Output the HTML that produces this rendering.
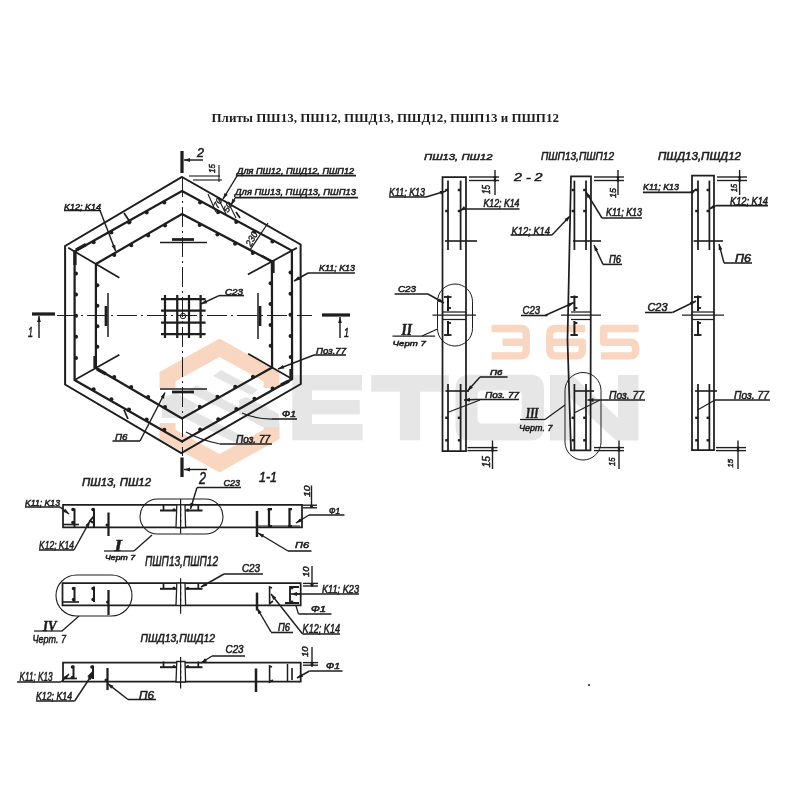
<!DOCTYPE html>
<html><head><meta charset="utf-8"><style>
html,body{margin:0;padding:0;background:#fff;}
svg{display:block;filter:blur(0.25px);}
</style></head><body>
<svg width="800" height="800" viewBox="0 0 800 800">
<rect width="800" height="800" fill="#fff"/>
<polygon points="159.5,388.0 159.5,372.0 219.5,338.5 279.5,372.0 279.5,388.0 263.5,388.0 263.5,381.2 219.5,356.9 175.5,381.2 175.5,388.0" fill="#f9d6bf"/>
<polygon points="159.5,423.0 159.5,439.0 219.5,472.5 279.5,439.0 279.5,423.0 263.5,423.0 263.5,429.8 219.5,454.1 175.5,429.8 175.5,423.0" fill="#f9d6bf"/>
<polygon points="213,376 221,370 258,390 251,395" fill="#e4e4e4"/>
<polygon points="188,392 196,385 240,408 233,414" fill="#e4e4e4"/>
<polygon points="162,398 176,393 198,405 186,418 162,418" fill="#e4e4e4"/>
<polygon points="180,416 190,409 246,438 238,444" fill="#e4e4e4"/>
<polygon points="239,400 246,397 279,414 279,427 262,427 239,414" fill="#e4e4e4"/>
<path fill="#e6e6e6" d="M292.3,375 H362 V390.6 H312 V400 H359.8 V414.5 H312 V424 H362.6 V440.3 H292.3 Z"/>
<path fill="#e6e6e6" d="M371.2,375 H448.8 V391.8 H420.1 V440.3 H399.9 V391.8 H371.2 Z"/>
<path fill="#e6e6e6" fill-rule="evenodd" d="M470,374.8 H530 Q544,374.8 544,388.8 V426.6 Q544,440.6 530,440.6 H470 Q455.5,440.6 455.5,426.6 V388.8 Q455.5,374.8 470,374.8 Z M482.5,390.5 Q477.5,390.5 477.5,395.5 V418.5 Q477.5,423.5 482.5,423.5 H516.75 Q521.75,423.5 521.75,418.5 V395.5 Q521.75,390.5 516.75,390.5 Z"/>
<path fill="#e6e6e6" d="M550,375 H572 L618,418 V375 H638.5 V440.6 H616 L570,397.5 V440.6 H550 Z"/>
<path d="M491.6,328.5 H520.3 Q526.3,328.5 526.3,334.5 V349.90000000000003 Q526.3,355.90000000000003 520.3,355.90000000000003 H491.6 M502.6,342.20000000000005 H526.3" fill="none" stroke="#f9d6c0" stroke-width="7.4" stroke-linejoin="round"/>
<path d="M585,328.5 H555.7 Q549.7,328.5 549.7,334.5 V349.90000000000003 Q549.7,355.90000000000003 555.7,355.90000000000003 H576.3 Q582.3,355.90000000000003 582.3,349.90000000000003 V342.20000000000005 H549.7" fill="none" stroke="#f9d6c0" stroke-width="7.4" stroke-linejoin="round"/>
<path d="M638.4,328.5 H603.7 V342.20000000000005 H629.6999999999999 Q635.6999999999999,342.20000000000005 635.6999999999999,348.20000000000005 V349.90000000000003 Q635.6999999999999,355.90000000000003 629.6999999999999,355.90000000000003 H601" fill="none" stroke="#f9d6c0" stroke-width="7.4" stroke-linejoin="round"/>
<text x="211.5" y="121.8" font-family="Liberation Serif" font-weight="bold" font-size="12.6" textLength="347.5" lengthAdjust="spacingAndGlyphs" fill="#1e1e1e">Плиты ПШ13, ПШ12, ПШД13, ПШД12, ПШП13 и ПШП12</text>
<polygon points="182,177 300.6,244.5 300.8,384 181.3,453 65.1,384.5 65.1,246" stroke="#1e1e1e" stroke-width="2.00" fill="none" stroke-linejoin="miter"/>
<polygon points="182,191 291.9,250.6 292.1,379 182,441.4 74.6,380 74.6,251.5" stroke="#1e1e1e" stroke-width="2.25" fill="none" stroke-linejoin="miter"/>
<polygon points="182,214 271.9,261.5 272.1,367.5 182,418.5 95.9,368 95.9,264" stroke="#1e1e1e" stroke-width="2.25" fill="none" stroke-linejoin="miter"/>
<circle cx="200.08616697650513" cy="202.41551749626163" r="2.0" fill="#1e1e1e"/>
<circle cx="218.14370703142922" cy="212.284505192199" r="2.0" fill="#1e1e1e"/>
<circle cx="236.20231911275124" cy="222.10037428875034" r="2.0" fill="#1e1e1e"/>
<circle cx="254.28963213603956" cy="231.87149128632677" r="2.0" fill="#1e1e1e"/>
<circle cx="272.42433683125813" cy="241.61888886141824" r="2.0" fill="#1e1e1e"/>
<circle cx="290.5394209805579" cy="272.55408334461526" r="2.0" fill="#1e1e1e"/>
<circle cx="290.4963319030227" cy="293.696842858799" r="2.0" fill="#1e1e1e"/>
<circle cx="290.5000306489637" cy="314.80958884516645" r="2.0" fill="#1e1e1e"/>
<circle cx="290.5594226377387" cy="335.9214550998283" r="2.0" fill="#1e1e1e"/>
<circle cx="290.666472670287" cy="357.06198812977567" r="2.0" fill="#1e1e1e"/>
<circle cx="272.5843260859709" cy="388.4559638109945" r="2.0" fill="#1e1e1e"/>
<circle cx="254.4188345323285" cy="398.6654012493181" r="2.0" fill="#1e1e1e"/>
<circle cx="236.30128783579596" cy="408.9002192126467" r="2.0" fill="#1e1e1e"/>
<circle cx="218.2115130437651" cy="419.1817685331412" r="2.0" fill="#1e1e1e"/>
<circle cx="200.1209016011447" cy="429.5175985956422" r="2.0" fill="#1e1e1e"/>
<circle cx="164.3356536471526" cy="429.6852931963413" r="2.0" fill="#1e1e1e"/>
<circle cx="146.68830884062567" cy="419.51504052993664" r="2.0" fill="#1e1e1e"/>
<circle cx="129.04214303833132" cy="409.39645724632584" r="2.0" fill="#1e1e1e"/>
<circle cx="111.37052150907893" cy="399.32294991833464" r="2.0" fill="#1e1e1e"/>
<circle cx="93.65401177256932" cy="389.2750761503332" r="2.0" fill="#1e1e1e"/>
<circle cx="75.99305609022015" cy="358.02710071158185" r="2.0" fill="#1e1e1e"/>
<circle cx="76.070643413522" cy="336.8713567442727" r="2.0" fill="#1e1e1e"/>
<circle cx="76.09999597378795" cy="315.74652456910616" r="2.0" fill="#1e1e1e"/>
<circle cx="76.07194536572514" cy="294.62208381440706" r="2.0" fill="#1e1e1e"/>
<circle cx="75.99527156777397" cy="273.46731832802936" r="2.0" fill="#1e1e1e"/>
<circle cx="93.65811199969932" cy="242.3699644145673" r="2.0" fill="#1e1e1e"/>
<circle cx="111.3758526311405" cy="232.4725048051918" r="2.0" fill="#1e1e1e"/>
<circle cx="129.04777148828595" cy="222.5503221913459" r="2.0" fill="#1e1e1e"/>
<circle cx="146.69290382242994" cy="212.58336911313663" r="2.0" fill="#1e1e1e"/>
<circle cx="164.33816359815268" cy="202.56430534539666" r="2.0" fill="#1e1e1e"/>
<circle cx="199.7000090312651" cy="224.97363667755212" r="2.0" fill="#1e1e1e"/>
<circle cx="217.36766984412523" cy="234.37809469429405" r="2.0" fill="#1e1e1e"/>
<circle cx="235.05396111628352" cy="243.71034503202287" r="2.0" fill="#1e1e1e"/>
<circle cx="252.79900726665417" cy="252.99668214180144" r="2.0" fill="#1e1e1e"/>
<circle cx="270.53171267040057" cy="283.21645599743806" r="2.0" fill="#1e1e1e"/>
<circle cx="270.49244780998345" cy="304.0928431538242" r="2.0" fill="#1e1e1e"/>
<circle cx="270.52855140261863" cy="324.9400591316481" r="2.0" fill="#1e1e1e"/>
<circle cx="270.6415370633647" cy="345.812185591242" r="2.0" fill="#1e1e1e"/>
<circle cx="252.9477512473966" cy="376.71612360419203" r="2.0" fill="#1e1e1e"/>
<circle cx="235.1679076999278" cy="386.6941097362728" r="2.0" fill="#1e1e1e"/>
<circle cx="217.4471486689016" cy="396.722129433069" r="2.0" fill="#1e1e1e"/>
<circle cx="199.74172615936902" cy="406.82603810442043" r="2.0" fill="#1e1e1e"/>
<circle cx="165.06104713743457" cy="406.9265643867003" r="2.0" fill="#1e1e1e"/>
<circle cx="148.1431747342905" cy="396.9180060675657" r="2.0" fill="#1e1e1e"/>
<circle cx="131.21442437074037" cy="386.9812375047388" r="2.0" fill="#1e1e1e"/>
<circle cx="114.23367924663755" cy="377.09515248141383" r="2.0" fill="#1e1e1e"/>
<circle cx="97.3085946514139" cy="346.68438278926305" r="2.0" fill="#1e1e1e"/>
<circle cx="97.38825763936538" cy="326.21267888834774" r="2.0" fill="#1e1e1e"/>
<circle cx="97.39029346139932" cy="305.77036842110687" r="2.0" fill="#1e1e1e"/>
<circle cx="97.31379092961964" cy="285.3011937822093" r="2.0" fill="#1e1e1e"/>
<circle cx="114.24248755447847" cy="254.9949983367026" r="2.0" fill="#1e1e1e"/>
<circle cx="131.22403023409473" cy="245.21181291675177" r="2.0" fill="#1e1e1e"/>
<circle cx="148.1510422698538" cy="235.37864753843976" r="2.0" fill="#1e1e1e"/>
<circle cx="165.06519299514977" cy="225.47263877292346" r="2.0" fill="#1e1e1e"/>
<line x1="296.9" y1="247.88" x2="247.9" y2="274.58" stroke="#1e1e1e" stroke-width="1.75"/>
<line x1="292.1" y1="379.0" x2="248.1" y2="353.7" stroke="#1e1e1e" stroke-width="1.75"/>
<line x1="74.6" y1="380.0" x2="119.33" y2="354.8" stroke="#1e1e1e" stroke-width="1.75"/>
<line x1="68.21" y1="247.75" x2="119.33" y2="277.75" stroke="#1e1e1e" stroke-width="1.75"/>
<line x1="75" y1="251" x2="75" y2="265" stroke="#1e1e1e" stroke-width="3.25"/>
<line x1="76" y1="250" x2="86" y2="244.5" stroke="#1e1e1e" stroke-width="3.25"/>
<line x1="273" y1="261" x2="273" y2="273" stroke="#1e1e1e" stroke-width="3.25"/>
<line x1="271" y1="261" x2="262" y2="256" stroke="#1e1e1e" stroke-width="2.50"/>
<line x1="291" y1="369" x2="291" y2="379" stroke="#1e1e1e" stroke-width="3.25"/>
<line x1="281" y1="385" x2="289" y2="381" stroke="#1e1e1e" stroke-width="3.25"/>
<line x1="95" y1="356" x2="95" y2="368" stroke="#1e1e1e" stroke-width="3.25"/>
<line x1="97" y1="369" x2="106" y2="374" stroke="#1e1e1e" stroke-width="3.25"/>
<line x1="182.5" y1="177" x2="182.5" y2="456" stroke="#1e1e1e" stroke-width="1" stroke-dasharray="20,4,2,4"/>
<line x1="57" y1="315.5" x2="312" y2="315.5" stroke="#1e1e1e" stroke-width="1" stroke-dasharray="20,4,2,4"/>
<line x1="182" y1="151" x2="182" y2="173" stroke="#1e1e1e" stroke-width="3.25"/>
<line x1="203" y1="160" x2="184" y2="160" stroke="#1e1e1e" stroke-width="1.44"/>
<polygon points="184,160 190.00,158.08 190.00,161.92" fill="#1e1e1e"/>
<text x="197" y="157" font-family="Liberation Sans" font-style="italic" font-weight="normal" font-size="12.50" textLength="7.0" lengthAdjust="spacingAndGlyphs" fill="#1e1e1e" stroke="#1e1e1e" stroke-width="0.55">2</text>
<line x1="182" y1="457.5" x2="182" y2="477" stroke="#1e1e1e" stroke-width="3.25"/>
<line x1="207" y1="469.5" x2="184" y2="469.5" stroke="#1e1e1e" stroke-width="1.44"/>
<polygon points="184,469.5 190.00,467.58 190.00,471.42" fill="#1e1e1e"/>
<text x="199" y="484" font-family="Liberation Sans" font-style="italic" font-weight="normal" font-size="16.67" textLength="7.0" lengthAdjust="spacingAndGlyphs" fill="#1e1e1e" stroke="#1e1e1e" stroke-width="0.55">2</text>
<line x1="32" y1="314" x2="55" y2="314" stroke="#1e1e1e" stroke-width="3.25"/>
<line x1="39" y1="338" x2="39" y2="316" stroke="#1e1e1e" stroke-width="1.44"/>
<polygon points="39,316 40.92,322.00 37.08,322.00" fill="#1e1e1e"/>
<text x="28" y="337" font-family="Liberation Sans" font-style="italic" font-weight="normal" font-size="15.28" textLength="5.0" lengthAdjust="spacingAndGlyphs" fill="#1e1e1e" stroke="#1e1e1e" stroke-width="0.55">1</text>
<line x1="322" y1="315" x2="350" y2="315" stroke="#1e1e1e" stroke-width="3.25"/>
<line x1="340" y1="338" x2="340" y2="317" stroke="#1e1e1e" stroke-width="1.44"/>
<polygon points="340,317 341.92,323.00 338.08,323.00" fill="#1e1e1e"/>
<text x="344" y="337" font-family="Liberation Sans" font-style="italic" font-weight="normal" font-size="12.50" textLength="5.0" lengthAdjust="spacingAndGlyphs" fill="#1e1e1e" stroke="#1e1e1e" stroke-width="0.55">1</text>
<line x1="160" y1="242.5" x2="207" y2="242.5" stroke="#1e1e1e" stroke-width="1.50"/>
<line x1="172" y1="239.5" x2="194" y2="239.5" stroke="#1e1e1e" stroke-width="2.75"/>
<line x1="160" y1="389" x2="207" y2="389" stroke="#1e1e1e" stroke-width="1.50"/>
<line x1="172" y1="392" x2="194" y2="392" stroke="#1e1e1e" stroke-width="2.75"/>
<line x1="108" y1="293" x2="108" y2="337" stroke="#1e1e1e" stroke-width="1.50"/>
<line x1="106" y1="306" x2="106" y2="326" stroke="#1e1e1e" stroke-width="2.75"/>
<line x1="258" y1="293" x2="258" y2="339" stroke="#1e1e1e" stroke-width="1.50"/>
<line x1="260" y1="306" x2="260" y2="326" stroke="#1e1e1e" stroke-width="2.75"/>
<line x1="165" y1="295" x2="165" y2="338" stroke="#1e1e1e" stroke-width="2.25"/>
<line x1="177.25" y1="295" x2="177.25" y2="338" stroke="#1e1e1e" stroke-width="2.25"/>
<line x1="189" y1="295" x2="189" y2="338" stroke="#1e1e1e" stroke-width="2.25"/>
<line x1="200.6" y1="295" x2="200.6" y2="338" stroke="#1e1e1e" stroke-width="2.25"/>
<line x1="161" y1="299" x2="205.6" y2="299" stroke="#1e1e1e" stroke-width="2.25"/>
<line x1="161" y1="310.6" x2="205.6" y2="310.6" stroke="#1e1e1e" stroke-width="2.25"/>
<line x1="161" y1="322.5" x2="205.6" y2="322.5" stroke="#1e1e1e" stroke-width="2.25"/>
<line x1="161" y1="334" x2="205.6" y2="334" stroke="#1e1e1e" stroke-width="2.25"/>
<circle cx="183" cy="316" r="2.7" fill="none" stroke="#1e1e1e" stroke-width="1"/>
<line x1="219" y1="295.6" x2="201" y2="304" stroke="#1e1e1e" stroke-width="1.44"/>
<polygon points="201,304 205.63,299.72 207.25,303.20" fill="#1e1e1e"/>
<text x="225" y="295" font-family="Liberation Sans" font-style="italic" font-weight="normal" font-size="8.97" textLength="18.0" lengthAdjust="spacingAndGlyphs" fill="#1e1e1e" stroke="#1e1e1e" stroke-width="0.55">C23</text>
<line x1="219" y1="295.6" x2="244" y2="295.6" stroke="#1e1e1e" stroke-width="1.56"/>
<text x="64" y="210" font-family="Liberation Sans" font-style="italic" font-weight="normal" font-size="8.97" textLength="37.0" lengthAdjust="spacingAndGlyphs" fill="#1e1e1e" stroke="#1e1e1e" stroke-width="0.55">K12; K14</text>
<line x1="64" y1="210.5" x2="101" y2="210.5" stroke="#1e1e1e" stroke-width="1.56"/>
<line x1="100" y1="210.5" x2="115.6" y2="251" stroke="#1e1e1e" stroke-width="1.44"/>
<polygon points="115.6,251 111.65,246.09 115.24,244.71" fill="#1e1e1e"/>
<text x="237" y="173.6" font-family="Liberation Sans" font-style="italic" font-weight="normal" font-size="8.46" textLength="117.0" lengthAdjust="spacingAndGlyphs" fill="#1e1e1e" stroke="#1e1e1e" stroke-width="0.55">Для ПШ12, ПШД12, ПШП12</text>
<line x1="236" y1="175.6" x2="356" y2="175.6" stroke="#1e1e1e" stroke-width="1.56"/>
<line x1="237" y1="176" x2="223" y2="199" stroke="#1e1e1e" stroke-width="1.44"/>
<polygon points="223,199 224.48,192.88 227.76,194.87" fill="#1e1e1e"/>
<text x="235" y="195" font-family="Liberation Sans" font-style="italic" font-weight="normal" font-size="8.97" textLength="121.0" lengthAdjust="spacingAndGlyphs" fill="#1e1e1e" stroke="#1e1e1e" stroke-width="0.55">Для ПШ13, ПШД13, ПШП13</text>
<line x1="235" y1="197.6" x2="358" y2="197.6" stroke="#1e1e1e" stroke-width="1.56"/>
<line x1="235" y1="198" x2="231" y2="205" stroke="#1e1e1e" stroke-width="1.44"/>
<polygon points="231,205 232.31,198.84 235.64,200.74" fill="#1e1e1e"/>
<text x="319" y="271" font-family="Liberation Sans" font-style="italic" font-weight="normal" font-size="8.97" textLength="36.0" lengthAdjust="spacingAndGlyphs" fill="#1e1e1e" stroke="#1e1e1e" stroke-width="0.55">K11; K13</text>
<line x1="308" y1="273" x2="355" y2="273" stroke="#1e1e1e" stroke-width="1.56"/>
<line x1="308" y1="273" x2="294" y2="281" stroke="#1e1e1e" stroke-width="1.44"/>
<polygon points="294,281 298.26,276.36 300.16,279.69" fill="#1e1e1e"/>
<text x="316" y="354" font-family="Liberation Sans" font-style="italic" font-weight="normal" font-size="8.97" textLength="30.0" lengthAdjust="spacingAndGlyphs" fill="#1e1e1e" stroke="#1e1e1e" stroke-width="0.55">Поз.77</text>
<line x1="314" y1="355" x2="346" y2="355" stroke="#1e1e1e" stroke-width="1.56"/>
<line x1="314" y1="355" x2="278" y2="369" stroke="#1e1e1e" stroke-width="1.44"/>
<polygon points="278,369 282.90,365.04 284.29,368.61" fill="#1e1e1e"/>
<text x="282" y="417" font-family="Liberation Sans" font-style="italic" font-weight="normal" font-size="8.97" textLength="14.0" lengthAdjust="spacingAndGlyphs" fill="#1e1e1e" stroke="#1e1e1e" stroke-width="0.55">Ф1</text>
<line x1="272" y1="419" x2="297" y2="419" stroke="#1e1e1e" stroke-width="1.56"/>
<path d="M272,419 Q255,419 242,413" stroke="#1e1e1e" stroke-width="1.25" fill="none"/>
<text x="236" y="443" font-family="Liberation Sans" font-style="italic" font-weight="normal" font-size="10.26" textLength="34.0" lengthAdjust="spacingAndGlyphs" fill="#1e1e1e" stroke="#1e1e1e" stroke-width="0.55">Поз. 77</text>
<line x1="220" y1="444" x2="272" y2="444" stroke="#1e1e1e" stroke-width="1.56"/>
<path d="M220,444 Q200,440 186,432" stroke="#1e1e1e" stroke-width="1.25" fill="none"/>
<text x="115" y="440" font-family="Liberation Sans" font-style="italic" font-weight="normal" font-size="9.62" textLength="12.5" lengthAdjust="spacingAndGlyphs" fill="#1e1e1e" stroke="#1e1e1e" stroke-width="0.55">П6</text>
<line x1="112.5" y1="441" x2="140" y2="441" stroke="#1e1e1e" stroke-width="1.56"/>
<line x1="140" y1="441" x2="165" y2="392.5" stroke="#1e1e1e" stroke-width="1.44"/>
<polygon points="165,392.5 163.96,398.71 160.54,396.95" fill="#1e1e1e"/>
<line x1="189" y1="176" x2="220" y2="176" stroke="#1e1e1e" stroke-width="1.12"/>
<line x1="193" y1="180" x2="222" y2="180" stroke="#1e1e1e" stroke-width="1.12"/>
<line x1="219" y1="165" x2="219" y2="182" stroke="#1e1e1e" stroke-width="1.12"/>
<text transform="translate(215,173) rotate(-90)" x="0" y="0" font-family="Liberation Sans" font-style="italic" font-size="9.38" textLength="9.0" lengthAdjust="spacingAndGlyphs" fill="#1e1e1e" stroke="#1e1e1e" stroke-width="0.5">15</text>
<text transform="translate(218,209) rotate(-62)" font-family="Liberation Sans" font-style="italic" font-size="8.5" textLength="10" lengthAdjust="spacingAndGlyphs" fill="#1e1e1e" stroke="#1e1e1e" stroke-width="0.4">70</text>
<text transform="translate(228,213) rotate(-62)" font-family="Liberation Sans" font-style="italic" font-size="8.5" textLength="10" lengthAdjust="spacingAndGlyphs" fill="#1e1e1e" stroke="#1e1e1e" stroke-width="0.4">50</text>
<line x1="208" y1="194" x2="216" y2="212" stroke="#1e1e1e" stroke-width="1.12"/>
<line x1="218" y1="198" x2="226" y2="214" stroke="#1e1e1e" stroke-width="1.12"/>
<line x1="228" y1="202" x2="236" y2="218" stroke="#1e1e1e" stroke-width="1.12"/>
<line x1="268" y1="223" x2="250" y2="250" stroke="#1e1e1e" stroke-width="1.25"/>
<text transform="translate(251,247) rotate(-62)" font-family="Liberation Sans" font-style="italic" font-size="9.5" textLength="15" lengthAdjust="spacingAndGlyphs" fill="#1e1e1e" stroke="#1e1e1e" stroke-width="0.4">230</text>
<line x1="124" y1="213" x2="130" y2="222" stroke="#1e1e1e" stroke-width="1.75"/>
<line x1="236" y1="212" x2="240" y2="218" stroke="#1e1e1e" stroke-width="1.75"/>
<line x1="124" y1="410" x2="128" y2="419" stroke="#1e1e1e" stroke-width="1.75"/>
<circle cx="128" cy="410" r="1.6" fill="#1e1e1e"/>
<circle cx="130" cy="222" r="1.6" fill="#1e1e1e"/>
<text x="82" y="486" font-family="Liberation Sans" font-style="italic" font-weight="normal" font-size="10.90" textLength="69.0" lengthAdjust="spacingAndGlyphs" fill="#1e1e1e" stroke="#1e1e1e" stroke-width="0.55">ПШ13, ПШ12</text>
<text x="259" y="482" font-family="Liberation Sans" font-style="italic" font-weight="normal" font-size="13.89" textLength="18.0" lengthAdjust="spacingAndGlyphs" fill="#1e1e1e" stroke="#1e1e1e" stroke-width="0.55">1-1</text>
<polygon points="63,504.8 302,504.8 302,527.3 63,527.3" stroke="#1e1e1e" stroke-width="1.75" fill="none" stroke-linejoin="miter"/>
<rect x="140" y="499" width="83" height="35" rx="17.5" ry="17.5" fill="none" stroke="#1e1e1e" stroke-width="1.1"/>
<polygon points="176.8,504.8 185,504.8 185.6,527.5 176,527.5" fill="#fff" stroke="#1e1e1e" stroke-width="1.3"/>
<line x1="181" y1="507.8" x2="181" y2="524.5" stroke="#888" stroke-width="0.8" stroke-dasharray="3,3"/>
<line x1="180.6" y1="499" x2="180.6" y2="533.5" stroke="#1e1e1e" stroke-width="1.25"/>
<line x1="160" y1="510.5" x2="176.5" y2="510.5" stroke="#1e1e1e" stroke-width="2.00"/>
<line x1="185.3" y1="510.5" x2="202.5" y2="510.5" stroke="#1e1e1e" stroke-width="2.00"/>
<line x1="163.5" y1="504.8" x2="163.5" y2="510.5" stroke="#1e1e1e" stroke-width="1.75"/>
<line x1="198.3" y1="504.8" x2="198.3" y2="510.5" stroke="#1e1e1e" stroke-width="1.75"/>
<circle cx="174" cy="509.7" r="1.5" fill="#1e1e1e"/>
<circle cx="187.8" cy="509.9" r="1.5" fill="#1e1e1e"/>
<line x1="108.5" y1="512.5" x2="108.5" y2="536" stroke="#1e1e1e" stroke-width="2.25"/>
<circle cx="107" cy="525" r="1.5" fill="#1e1e1e"/>
<line x1="74.5" y1="508.5" x2="74.5" y2="527" stroke="#1e1e1e" stroke-width="2.00"/>
<circle cx="73" cy="509.5" r="1.8" fill="#1e1e1e"/>
<circle cx="73" cy="522.5" r="1.8" fill="#1e1e1e"/>
<line x1="94" y1="508.5" x2="94" y2="527" stroke="#1e1e1e" stroke-width="2.00"/>
<circle cx="93" cy="509.5" r="1.8" fill="#1e1e1e"/>
<path d="M94,516 L90,521 L94,523" stroke="#1e1e1e" stroke-width="2.00" fill="none"/>
<line x1="63" y1="524.5" x2="79" y2="524.5" stroke="#1e1e1e" stroke-width="1.62"/>
<line x1="257" y1="511" x2="257" y2="537" stroke="#1e1e1e" stroke-width="2.50"/>
<path d="M272,509 L269,509 L269,526 L272,526" stroke="#1e1e1e" stroke-width="2.25" fill="none"/>
<circle cx="269" cy="509.5" r="1.5" fill="#1e1e1e"/>
<path d="M292,509 L289.5,509 L289.5,526 L292,526" stroke="#1e1e1e" stroke-width="2.25" fill="none"/>
<circle cx="289.5" cy="526" r="1.5" fill="#1e1e1e"/>
<line x1="258" y1="526" x2="300" y2="526" stroke="#1e1e1e" stroke-width="1.12"/>
<text x="25" y="506" font-family="Liberation Sans" font-style="italic" font-weight="normal" font-size="8.97" textLength="35.0" lengthAdjust="spacingAndGlyphs" fill="#1e1e1e" stroke="#1e1e1e" stroke-width="0.55">K11; K13</text>
<line x1="25" y1="507" x2="60" y2="507" stroke="#1e1e1e" stroke-width="1.56"/>
<line x1="60" y1="507" x2="69" y2="514" stroke="#1e1e1e" stroke-width="1.44"/>
<polygon points="69,514 63.09,511.83 65.44,508.80" fill="#1e1e1e"/>
<text x="39" y="549" font-family="Liberation Sans" font-style="italic" font-weight="normal" font-size="11.54" textLength="35.0" lengthAdjust="spacingAndGlyphs" fill="#1e1e1e" stroke="#1e1e1e" stroke-width="0.55">K12; K14</text>
<line x1="39" y1="550" x2="74" y2="550" stroke="#1e1e1e" stroke-width="1.56"/>
<line x1="74" y1="550" x2="90" y2="521" stroke="#1e1e1e" stroke-width="1.44"/>
<polygon points="90,521 88.78,527.18 85.42,525.33" fill="#1e1e1e"/>
<text x="114.5" y="550.5" font-family="Liberation Serif" font-style="italic" font-weight="bold" font-size="17.42" textLength="7.5" lengthAdjust="spacingAndGlyphs" fill="#1e1e1e" stroke="#1e1e1e" stroke-width="0.55">I</text>
<line x1="104" y1="551" x2="134" y2="551" stroke="#1e1e1e" stroke-width="1.25"/>
<text x="105" y="559.5" font-family="Liberation Sans" font-style="italic" font-weight="normal" font-size="7.33" textLength="30.0" lengthAdjust="spacingAndGlyphs" fill="#1e1e1e" stroke="#1e1e1e" stroke-width="0.55">Черт 7</text>
<line x1="134" y1="551" x2="152" y2="535" stroke="#1e1e1e" stroke-width="1.25"/>
<text x="223.5" y="486" font-family="Liberation Sans" font-style="italic" font-weight="normal" font-size="8.97" textLength="16.5" lengthAdjust="spacingAndGlyphs" fill="#1e1e1e" stroke="#1e1e1e" stroke-width="0.55">C23</text>
<line x1="197" y1="487.5" x2="241" y2="487.5" stroke="#1e1e1e" stroke-width="1.56"/>
<line x1="197" y1="487.5" x2="190.5" y2="509" stroke="#1e1e1e" stroke-width="1.44"/>
<polygon points="190.5,509 190.40,502.70 194.07,503.81" fill="#1e1e1e"/>
<text transform="translate(309.5,497) rotate(-90)" x="0" y="0" font-family="Liberation Sans" font-style="italic" font-size="8.59" textLength="11.5" lengthAdjust="spacingAndGlyphs" fill="#1e1e1e" stroke="#1e1e1e" stroke-width="0.5">10</text>
<line x1="311.5" y1="485.5" x2="311.5" y2="508" stroke="#1e1e1e" stroke-width="1.38"/>
<line x1="303" y1="505.2" x2="317" y2="505.2" stroke="#1e1e1e" stroke-width="1.38"/>
<line x1="303" y1="507.8" x2="317" y2="507.8" stroke="#1e1e1e" stroke-width="1.38"/>
<circle cx="311.5" cy="506" r="1.6" fill="#1e1e1e"/>
<text x="329" y="513.6" font-family="Liberation Sans" font-style="italic" font-weight="normal" font-size="8.85" textLength="11.0" lengthAdjust="spacingAndGlyphs" fill="#1e1e1e" stroke="#1e1e1e" stroke-width="0.55">Ф1</text>
<line x1="309" y1="515" x2="344.5" y2="515" stroke="#1e1e1e" stroke-width="1.56"/>
<line x1="309" y1="515" x2="296" y2="523" stroke="#1e1e1e" stroke-width="1.44"/>
<polygon points="296,523 300.10,518.22 302.12,521.49" fill="#1e1e1e"/>
<text x="295" y="548" font-family="Liberation Sans" font-style="italic" font-weight="normal" font-size="8.97" textLength="14.0" lengthAdjust="spacingAndGlyphs" fill="#1e1e1e" stroke="#1e1e1e" stroke-width="0.55">П6</text>
<line x1="288" y1="551" x2="311.5" y2="551" stroke="#1e1e1e" stroke-width="1.56"/>
<line x1="288" y1="551" x2="258" y2="533" stroke="#1e1e1e" stroke-width="1.44"/>
<polygon points="258,533 264.13,534.44 262.16,537.73" fill="#1e1e1e"/>
<text x="145" y="566" font-family="Liberation Sans" font-style="italic" font-weight="normal" font-size="14.10" textLength="73.0" lengthAdjust="spacingAndGlyphs" fill="#1e1e1e" stroke="#1e1e1e" stroke-width="0.55">ПШП13,ПШП12</text>
<polygon points="62.5,583.1 300.7,583.1 300.7,605.4 62.5,605.4" stroke="#1e1e1e" stroke-width="1.75" fill="none" stroke-linejoin="miter"/>
<rect x="56" y="575" width="76" height="41" rx="20.5" ry="20.5" fill="none" stroke="#1e1e1e" stroke-width="1.1"/>
<line x1="62.5" y1="602" x2="79" y2="602" stroke="#1e1e1e" stroke-width="1.62"/>
<line x1="74.5" y1="587" x2="74.5" y2="602" stroke="#1e1e1e" stroke-width="2.00"/>
<circle cx="73.5" cy="588.5" r="1.7" fill="#1e1e1e"/>
<circle cx="73.5" cy="599.5" r="1.7" fill="#1e1e1e"/>
<line x1="94" y1="586.5" x2="94" y2="602" stroke="#1e1e1e" stroke-width="2.00"/>
<circle cx="93" cy="588.5" r="1.7" fill="#1e1e1e"/>
<circle cx="93" cy="599.5" r="1.7" fill="#1e1e1e"/>
<line x1="108.5" y1="590" x2="108.5" y2="615" stroke="#1e1e1e" stroke-width="2.25"/>
<circle cx="107.5" cy="602" r="1.5" fill="#1e1e1e"/>
<polygon points="176.8,583.1 185,583.1 185.6,605.4 176,605.4" fill="#fff" stroke="#1e1e1e" stroke-width="1.3"/>
<line x1="181" y1="586.1" x2="181" y2="602.4" stroke="#888" stroke-width="0.8" stroke-dasharray="3,3"/>
<line x1="180.6" y1="578.3" x2="180.6" y2="613.7" stroke="#1e1e1e" stroke-width="1.25"/>
<line x1="160" y1="588.8000000000001" x2="176.5" y2="588.8000000000001" stroke="#1e1e1e" stroke-width="2.00"/>
<line x1="185.3" y1="588.8000000000001" x2="202.5" y2="588.8000000000001" stroke="#1e1e1e" stroke-width="2.00"/>
<line x1="163.5" y1="583.1" x2="163.5" y2="588.8000000000001" stroke="#1e1e1e" stroke-width="1.75"/>
<line x1="198.3" y1="583.1" x2="198.3" y2="588.8000000000001" stroke="#1e1e1e" stroke-width="1.75"/>
<circle cx="174" cy="588.0000000000001" r="1.5" fill="#1e1e1e"/>
<circle cx="187.8" cy="588.2" r="1.5" fill="#1e1e1e"/>
<text x="43" y="630.5" font-family="Liberation Serif" font-style="italic" font-weight="bold" font-size="15.15" textLength="13.5" lengthAdjust="spacingAndGlyphs" fill="#1e1e1e" stroke="#1e1e1e" stroke-width="0.55">IV</text>
<line x1="34" y1="631" x2="62.5" y2="631" stroke="#1e1e1e" stroke-width="1.25"/>
<text x="32.5" y="642.5" font-family="Liberation Sans" font-style="italic" font-weight="normal" font-size="11.33" textLength="33.5" lengthAdjust="spacingAndGlyphs" fill="#1e1e1e" stroke="#1e1e1e" stroke-width="0.55">Черт. 7</text>
<line x1="62" y1="631" x2="79" y2="616" stroke="#1e1e1e" stroke-width="1.25"/>
<text x="242" y="572" font-family="Liberation Sans" font-style="italic" font-weight="normal" font-size="10.26" textLength="18.0" lengthAdjust="spacingAndGlyphs" fill="#1e1e1e" stroke="#1e1e1e" stroke-width="0.55">C23</text>
<line x1="224" y1="574" x2="263" y2="574" stroke="#1e1e1e" stroke-width="1.56"/>
<line x1="224" y1="574" x2="201" y2="587" stroke="#1e1e1e" stroke-width="1.44"/>
<polygon points="201,587 205.28,582.38 207.17,585.72" fill="#1e1e1e"/>
<text transform="translate(308.5,577) rotate(-90)" x="0" y="0" font-family="Liberation Sans" font-style="italic" font-size="8.59" textLength="10.5" lengthAdjust="spacingAndGlyphs" fill="#1e1e1e" stroke="#1e1e1e" stroke-width="0.5">10</text>
<line x1="312" y1="566" x2="312" y2="587" stroke="#1e1e1e" stroke-width="1.38"/>
<line x1="303" y1="583.4" x2="318" y2="583.4" stroke="#1e1e1e" stroke-width="1.38"/>
<line x1="303" y1="586" x2="318" y2="586" stroke="#1e1e1e" stroke-width="1.38"/>
<circle cx="312" cy="584.5" r="1.6" fill="#1e1e1e"/>
<text x="322" y="592.6" font-family="Liberation Sans" font-style="italic" font-weight="normal" font-size="11.03" textLength="37.0" lengthAdjust="spacingAndGlyphs" fill="#1e1e1e" stroke="#1e1e1e" stroke-width="0.55">K11; K23</text>
<line x1="296" y1="594" x2="359" y2="594" stroke="#1e1e1e" stroke-width="1.56"/>
<text x="311" y="612" font-family="Liberation Sans" font-style="italic" font-weight="normal" font-size="8.97" textLength="15.0" lengthAdjust="spacingAndGlyphs" fill="#1e1e1e" stroke="#1e1e1e" stroke-width="0.55">Ф1</text>
<line x1="298.5" y1="614" x2="331.5" y2="614" stroke="#1e1e1e" stroke-width="1.56"/>
<line x1="298.5" y1="614" x2="296" y2="606" stroke="#1e1e1e" stroke-width="1.25"/>
<text x="278" y="631" font-family="Liberation Sans" font-style="italic" font-weight="normal" font-size="10.26" textLength="12.0" lengthAdjust="spacingAndGlyphs" fill="#1e1e1e" stroke="#1e1e1e" stroke-width="0.55">П6</text>
<line x1="271" y1="632.5" x2="293" y2="632.5" stroke="#1e1e1e" stroke-width="1.56"/>
<line x1="271" y1="632" x2="257" y2="608" stroke="#1e1e1e" stroke-width="1.44"/>
<polygon points="257,608 261.68,612.22 258.36,614.15" fill="#1e1e1e"/>
<text x="302.6" y="632.5" font-family="Liberation Sans" font-style="italic" font-weight="normal" font-size="12.18" textLength="37.4" lengthAdjust="spacingAndGlyphs" fill="#1e1e1e" stroke="#1e1e1e" stroke-width="0.55">K12; K14</text>
<line x1="302.6" y1="634" x2="340" y2="634" stroke="#1e1e1e" stroke-width="1.56"/>
<line x1="302.6" y1="634" x2="271" y2="594" stroke="#1e1e1e" stroke-width="1.44"/>
<polygon points="271,594 276.23,597.52 273.21,599.90" fill="#1e1e1e"/>
<line x1="257" y1="592.6" x2="257" y2="610.5" stroke="#1e1e1e" stroke-width="2.50"/>
<path d="M272,588 L269.6,587 L269.6,603.6 L273,601" stroke="#1e1e1e" stroke-width="1.62" fill="none"/>
<path d="M299,587 H290 V603 H285 M290,603 H299" stroke="#1e1e1e" stroke-width="1.88" fill="none"/>
<line x1="300" y1="594" x2="291" y2="594" stroke="#1e1e1e" stroke-width="1.50"/>
<polygon points="291,594 297.00,592.08 297.00,595.92" fill="#1e1e1e"/>
<circle cx="292" cy="588" r="1.4" fill="#1e1e1e"/>
<circle cx="292" cy="602" r="1.4" fill="#1e1e1e"/>
<text x="140.6" y="642.4" font-family="Liberation Sans" font-style="italic" font-weight="normal" font-size="10.77" textLength="74.4" lengthAdjust="spacingAndGlyphs" fill="#1e1e1e" stroke="#1e1e1e" stroke-width="0.55">ПШД13,ПШД12</text>
<polygon points="63,662.5 300.7,662.5 300.7,681.5 63,681.5" stroke="#1e1e1e" stroke-width="1.75" fill="none" stroke-linejoin="miter"/>
<line x1="63" y1="678.5" x2="77" y2="678.5" stroke="#1e1e1e" stroke-width="1.62"/>
<line x1="73.5" y1="665.5" x2="73.5" y2="679" stroke="#1e1e1e" stroke-width="2.00"/>
<circle cx="72.5" cy="667" r="1.8" fill="#1e1e1e"/>
<circle cx="72.5" cy="677.5" r="1.8" fill="#1e1e1e"/>
<line x1="93" y1="665.5" x2="93" y2="679" stroke="#1e1e1e" stroke-width="2.00"/>
<circle cx="92" cy="667" r="1.8" fill="#1e1e1e"/>
<path d="M93,672 L89,676 L93,678" stroke="#1e1e1e" stroke-width="2.00" fill="none"/>
<line x1="107.5" y1="668" x2="107.5" y2="690" stroke="#1e1e1e" stroke-width="2.25"/>
<circle cx="106" cy="680" r="1.5" fill="#1e1e1e"/>
<polygon points="176.8,661.5 185,661.5 185.6,682 176,682" fill="#fff" stroke="#1e1e1e" stroke-width="1.3"/>
<line x1="181" y1="664.5" x2="181" y2="679" stroke="#888" stroke-width="0.8" stroke-dasharray="3,3"/>
<line x1="180.6" y1="657" x2="180.6" y2="688.5" stroke="#1e1e1e" stroke-width="1.25"/>
<line x1="160" y1="667.2" x2="176.5" y2="667.2" stroke="#1e1e1e" stroke-width="2.00"/>
<line x1="185.3" y1="667.2" x2="202.5" y2="667.2" stroke="#1e1e1e" stroke-width="2.00"/>
<line x1="163.5" y1="661.5" x2="163.5" y2="667.2" stroke="#1e1e1e" stroke-width="1.75"/>
<line x1="198.3" y1="661.5" x2="198.3" y2="667.2" stroke="#1e1e1e" stroke-width="1.75"/>
<circle cx="174" cy="666.4000000000001" r="1.5" fill="#1e1e1e"/>
<circle cx="187.8" cy="666.6" r="1.5" fill="#1e1e1e"/>
<text x="19.6" y="681" font-family="Liberation Sans" font-style="italic" font-weight="normal" font-size="12.82" textLength="33.0" lengthAdjust="spacingAndGlyphs" fill="#1e1e1e" stroke="#1e1e1e" stroke-width="0.55">K11; K13</text>
<line x1="17" y1="682" x2="61" y2="682" stroke="#1e1e1e" stroke-width="1.56"/>
<line x1="61" y1="682" x2="69" y2="674" stroke="#1e1e1e" stroke-width="1.44"/>
<polygon points="69,674 66.12,679.60 63.40,676.88" fill="#1e1e1e"/>
<text x="36" y="700" font-family="Liberation Sans" font-style="italic" font-weight="normal" font-size="10.26" textLength="36.0" lengthAdjust="spacingAndGlyphs" fill="#1e1e1e" stroke="#1e1e1e" stroke-width="0.55">K12; K14</text>
<line x1="36" y1="701" x2="74.6" y2="701" stroke="#1e1e1e" stroke-width="1.56"/>
<line x1="74.6" y1="701" x2="92.5" y2="674" stroke="#1e1e1e" stroke-width="1.44"/>
<polygon points="92.5,674 90.78,680.06 87.58,677.94" fill="#1e1e1e"/>
<text x="139" y="699" font-family="Liberation Sans" font-style="italic" font-weight="normal" font-size="10.90" textLength="15.0" lengthAdjust="spacingAndGlyphs" fill="#1e1e1e" stroke="#1e1e1e" stroke-width="0.55">П6</text>
<line x1="128" y1="699.5" x2="156" y2="699.5" stroke="#1e1e1e" stroke-width="1.56"/>
<line x1="128" y1="699.5" x2="107.6" y2="683.6" stroke="#1e1e1e" stroke-width="1.44"/>
<polygon points="107.6,683.6 113.51,685.77 111.15,688.80" fill="#1e1e1e"/>
<text x="225.6" y="653" font-family="Liberation Sans" font-style="italic" font-weight="normal" font-size="10.26" textLength="17.9" lengthAdjust="spacingAndGlyphs" fill="#1e1e1e" stroke="#1e1e1e" stroke-width="0.55">C23</text>
<line x1="212" y1="656" x2="245" y2="656" stroke="#1e1e1e" stroke-width="1.56"/>
<line x1="212" y1="656" x2="201" y2="663" stroke="#1e1e1e" stroke-width="1.44"/>
<polygon points="201,663 205.03,658.16 207.09,661.40" fill="#1e1e1e"/>
<text transform="translate(308,657) rotate(-90)" x="0" y="0" font-family="Liberation Sans" font-style="italic" font-size="8.59" textLength="10.5" lengthAdjust="spacingAndGlyphs" fill="#1e1e1e" stroke="#1e1e1e" stroke-width="0.5">10</text>
<line x1="312" y1="647" x2="312" y2="667" stroke="#1e1e1e" stroke-width="1.38"/>
<line x1="303" y1="662.6" x2="318" y2="662.6" stroke="#1e1e1e" stroke-width="1.38"/>
<line x1="303" y1="665.2" x2="318" y2="665.2" stroke="#1e1e1e" stroke-width="1.38"/>
<circle cx="312" cy="664" r="1.6" fill="#1e1e1e"/>
<text x="326" y="668.5" font-family="Liberation Sans" font-style="italic" font-weight="normal" font-size="8.85" textLength="14.0" lengthAdjust="spacingAndGlyphs" fill="#1e1e1e" stroke="#1e1e1e" stroke-width="0.55">Ф1</text>
<line x1="309.5" y1="671" x2="342.5" y2="671" stroke="#1e1e1e" stroke-width="1.56"/>
<line x1="309.5" y1="671" x2="297" y2="678" stroke="#1e1e1e" stroke-width="1.44"/>
<polygon points="297,678 301.30,673.39 303.17,676.74" fill="#1e1e1e"/>
<line x1="256" y1="668.5" x2="256" y2="692" stroke="#1e1e1e" stroke-width="2.50"/>
<path d="M272,667 L269.6,666 L269.6,682 L273,680" stroke="#1e1e1e" stroke-width="1.62" fill="none"/>
<polyline points="287.5,664 287.5,682" stroke="#1e1e1e" stroke-width="1.50" fill="none" stroke-linejoin="miter"/>
<path d="M292,668 L292,680" stroke="#1e1e1e" stroke-width="1.62" fill="none"/>
<circle cx="589" cy="685" r="1.0" fill="#1e1e1e"/>
<text x="424" y="160" font-family="Liberation Sans" font-style="italic" font-weight="normal" font-size="9.62" textLength="68.5" lengthAdjust="spacingAndGlyphs" fill="#1e1e1e" stroke="#1e1e1e" stroke-width="0.55">ПШ13, ПШ12</text>
<text x="514" y="181" font-family="Liberation Sans" font-style="italic" font-weight="normal" font-size="11.54" textLength="28.5" lengthAdjust="spacingAndGlyphs" fill="#1e1e1e" stroke="#1e1e1e" stroke-width="0.55">2 - 2</text>
<text x="541" y="160" font-family="Liberation Sans" font-style="italic" font-weight="normal" font-size="10.90" textLength="73.0" lengthAdjust="spacingAndGlyphs" fill="#1e1e1e" stroke="#1e1e1e" stroke-width="0.55">ПШП13,ПШП12</text>
<text x="658" y="160" font-family="Liberation Sans" font-style="italic" font-weight="normal" font-size="10.90" textLength="83.0" lengthAdjust="spacingAndGlyphs" fill="#1e1e1e" stroke="#1e1e1e" stroke-width="0.55">ПШД13,ПШД12</text>
<polygon points="442.5,177 466,177 466,451 442.5,451" stroke="#1e1e1e" stroke-width="1.75" fill="none" stroke-linejoin="miter"/>
<polyline points="567.5,340 571,176.4 591,176.4 590.5,450.3 571,450.3 567.5,340" stroke="#1e1e1e" stroke-width="1.75" fill="none" stroke-linejoin="miter"/>
<polygon points="692,175.6 714,175.6 714,450 692,450" stroke="#1e1e1e" stroke-width="1.75" fill="none" stroke-linejoin="miter"/>
<line x1="448" y1="180.6" x2="448" y2="250" stroke="#1e1e1e" stroke-width="1.75"/>
<line x1="460.6" y1="180.6" x2="460.6" y2="250" stroke="#1e1e1e" stroke-width="1.75"/>
<line x1="445" y1="241" x2="477" y2="241" stroke="#1e1e1e" stroke-width="1.62"/>
<rect x="445.2" y="188.8" width="3" height="2.4" fill="#1e1e1e"/>
<rect x="457.8" y="188.8" width="3" height="2.4" fill="#1e1e1e"/>
<rect x="445.2" y="209.8" width="3" height="2.4" fill="#1e1e1e"/>
<rect x="457.8" y="209.8" width="3" height="2.4" fill="#1e1e1e"/>
<line x1="442.5" y1="312" x2="466" y2="312" stroke="#1e1e1e" stroke-width="1.25"/>
<line x1="442.5" y1="319.5" x2="466" y2="319.5" stroke="#1e1e1e" stroke-width="1.25"/>
<line x1="432.5" y1="315" x2="476" y2="315" stroke="#1e1e1e" stroke-width="1.25"/>
<line x1="448" y1="295.5" x2="448" y2="311" stroke="#1e1e1e" stroke-width="2.00"/>
<line x1="444" y1="297" x2="451.5" y2="297" stroke="#1e1e1e" stroke-width="1.88"/>
<line x1="448" y1="308" x2="451" y2="308" stroke="#1e1e1e" stroke-width="1.88"/>
<line x1="448" y1="321" x2="448" y2="336" stroke="#1e1e1e" stroke-width="2.00"/>
<line x1="448" y1="323" x2="451" y2="323" stroke="#1e1e1e" stroke-width="1.88"/>
<line x1="444" y1="335" x2="451.5" y2="335" stroke="#1e1e1e" stroke-width="1.88"/>
<line x1="448" y1="384" x2="448" y2="451" stroke="#1e1e1e" stroke-width="1.75"/>
<line x1="460.6" y1="384" x2="460.6" y2="451" stroke="#1e1e1e" stroke-width="1.75"/>
<line x1="445.5" y1="391" x2="469" y2="391" stroke="#1e1e1e" stroke-width="1.62"/>
<rect x="445.2" y="416.6" width="3" height="2.4" fill="#1e1e1e"/>
<rect x="457.8" y="416.6" width="3" height="2.4" fill="#1e1e1e"/>
<rect x="445.2" y="439.1" width="3" height="2.4" fill="#1e1e1e"/>
<rect x="457.8" y="439.1" width="3" height="2.4" fill="#1e1e1e"/>
<line x1="574.4" y1="180.6" x2="574.4" y2="250" stroke="#1e1e1e" stroke-width="1.75"/>
<line x1="586" y1="180.6" x2="586" y2="250" stroke="#1e1e1e" stroke-width="1.75"/>
<line x1="573" y1="241" x2="601" y2="241" stroke="#1e1e1e" stroke-width="1.62"/>
<rect x="571.6" y="188.8" width="3" height="2.4" fill="#1e1e1e"/>
<rect x="583.2" y="188.8" width="3" height="2.4" fill="#1e1e1e"/>
<rect x="571.6" y="209.8" width="3" height="2.4" fill="#1e1e1e"/>
<rect x="583.2" y="209.8" width="3" height="2.4" fill="#1e1e1e"/>
<line x1="571" y1="312" x2="591" y2="312" stroke="#1e1e1e" stroke-width="1.25"/>
<line x1="571" y1="319.5" x2="591" y2="319.5" stroke="#1e1e1e" stroke-width="1.25"/>
<line x1="561" y1="315" x2="601" y2="315" stroke="#1e1e1e" stroke-width="1.25"/>
<line x1="574.4" y1="295.5" x2="574.4" y2="311" stroke="#1e1e1e" stroke-width="2.00"/>
<line x1="570.4" y1="297" x2="577.9" y2="297" stroke="#1e1e1e" stroke-width="1.88"/>
<line x1="574.4" y1="308" x2="577.4" y2="308" stroke="#1e1e1e" stroke-width="1.88"/>
<line x1="574.4" y1="321" x2="574.4" y2="336" stroke="#1e1e1e" stroke-width="2.00"/>
<line x1="574.4" y1="323" x2="577.4" y2="323" stroke="#1e1e1e" stroke-width="1.88"/>
<line x1="570.4" y1="335" x2="577.9" y2="335" stroke="#1e1e1e" stroke-width="1.88"/>
<line x1="574.4" y1="384" x2="574.4" y2="451" stroke="#1e1e1e" stroke-width="1.75"/>
<line x1="586" y1="384" x2="586" y2="451" stroke="#1e1e1e" stroke-width="1.75"/>
<line x1="574" y1="391" x2="594" y2="391" stroke="#1e1e1e" stroke-width="1.62"/>
<rect x="571.6" y="416.6" width="3" height="2.4" fill="#1e1e1e"/>
<rect x="583.2" y="416.6" width="3" height="2.4" fill="#1e1e1e"/>
<rect x="571.6" y="439.1" width="3" height="2.4" fill="#1e1e1e"/>
<rect x="583.2" y="439.1" width="3" height="2.4" fill="#1e1e1e"/>
<line x1="698" y1="180.6" x2="698" y2="250" stroke="#1e1e1e" stroke-width="1.75"/>
<line x1="709.4" y1="180.6" x2="709.4" y2="250" stroke="#1e1e1e" stroke-width="1.75"/>
<line x1="693.6" y1="241" x2="723" y2="241" stroke="#1e1e1e" stroke-width="1.62"/>
<rect x="695.2" y="188.8" width="3" height="2.4" fill="#1e1e1e"/>
<rect x="706.6" y="188.8" width="3" height="2.4" fill="#1e1e1e"/>
<rect x="695.2" y="209.8" width="3" height="2.4" fill="#1e1e1e"/>
<rect x="706.6" y="209.8" width="3" height="2.4" fill="#1e1e1e"/>
<line x1="692" y1="312" x2="714" y2="312" stroke="#1e1e1e" stroke-width="1.25"/>
<line x1="692" y1="319.5" x2="714" y2="319.5" stroke="#1e1e1e" stroke-width="1.25"/>
<line x1="682" y1="315" x2="724" y2="315" stroke="#1e1e1e" stroke-width="1.25"/>
<line x1="698" y1="295.5" x2="698" y2="311" stroke="#1e1e1e" stroke-width="2.00"/>
<line x1="694" y1="297" x2="701.5" y2="297" stroke="#1e1e1e" stroke-width="1.88"/>
<line x1="698" y1="308" x2="701" y2="308" stroke="#1e1e1e" stroke-width="1.88"/>
<line x1="698" y1="321" x2="698" y2="336" stroke="#1e1e1e" stroke-width="2.00"/>
<line x1="698" y1="323" x2="701" y2="323" stroke="#1e1e1e" stroke-width="1.88"/>
<line x1="694" y1="335" x2="701.5" y2="335" stroke="#1e1e1e" stroke-width="1.88"/>
<line x1="698" y1="384" x2="698" y2="451" stroke="#1e1e1e" stroke-width="1.75"/>
<line x1="709.4" y1="384" x2="709.4" y2="451" stroke="#1e1e1e" stroke-width="1.75"/>
<line x1="695" y1="391" x2="717" y2="391" stroke="#1e1e1e" stroke-width="1.62"/>
<rect x="695.2" y="416.6" width="3" height="2.4" fill="#1e1e1e"/>
<rect x="706.6" y="416.6" width="3" height="2.4" fill="#1e1e1e"/>
<rect x="695.2" y="439.1" width="3" height="2.4" fill="#1e1e1e"/>
<rect x="706.6" y="439.1" width="3" height="2.4" fill="#1e1e1e"/>
<rect x="437.5" y="284" width="35" height="62" rx="17.5" ry="17.5" fill="none" stroke="#1e1e1e" stroke-width="1"/>
<rect x="565" y="372.5" width="36" height="87.5" rx="18" ry="18" fill="none" stroke="#1e1e1e" stroke-width="1"/>
<line x1="469" y1="177" x2="499" y2="177" stroke="#1e1e1e" stroke-width="1.38"/>
<line x1="469" y1="180.5" x2="499" y2="180.5" stroke="#1e1e1e" stroke-width="1.38"/>
<line x1="495" y1="170" x2="495" y2="195" stroke="#1e1e1e" stroke-width="1.38"/>
<circle cx="495" cy="177.5" r="1.4" fill="#1e1e1e"/>
<circle cx="495" cy="180.5" r="1.4" fill="#1e1e1e"/>
<line x1="594" y1="177" x2="624" y2="177" stroke="#1e1e1e" stroke-width="1.38"/>
<line x1="594" y1="180.5" x2="624" y2="180.5" stroke="#1e1e1e" stroke-width="1.38"/>
<line x1="618" y1="170" x2="618" y2="195" stroke="#1e1e1e" stroke-width="1.38"/>
<circle cx="618" cy="177.5" r="1.4" fill="#1e1e1e"/>
<circle cx="618" cy="180.5" r="1.4" fill="#1e1e1e"/>
<line x1="717" y1="177" x2="747" y2="177" stroke="#1e1e1e" stroke-width="1.38"/>
<line x1="717" y1="180.5" x2="747" y2="180.5" stroke="#1e1e1e" stroke-width="1.38"/>
<line x1="739.6" y1="170" x2="739.6" y2="195" stroke="#1e1e1e" stroke-width="1.38"/>
<circle cx="739.6" cy="177.5" r="1.4" fill="#1e1e1e"/>
<circle cx="739.6" cy="180.5" r="1.4" fill="#1e1e1e"/>
<text transform="translate(490,194) rotate(-90)" x="0" y="0" font-family="Liberation Sans" font-style="italic" font-size="10.16" textLength="9.0" lengthAdjust="spacingAndGlyphs" fill="#1e1e1e" stroke="#1e1e1e" stroke-width="0.5">15</text>
<text transform="translate(616,198) rotate(-90)" x="0" y="0" font-family="Liberation Sans" font-style="italic" font-size="9.38" textLength="10.0" lengthAdjust="spacingAndGlyphs" fill="#1e1e1e" stroke="#1e1e1e" stroke-width="0.5">15</text>
<text transform="translate(737,192) rotate(-90)" x="0" y="0" font-family="Liberation Sans" font-style="italic" font-size="9.38" textLength="8.0" lengthAdjust="spacingAndGlyphs" fill="#1e1e1e" stroke="#1e1e1e" stroke-width="0.5">15</text>
<line x1="467.5" y1="447.6" x2="497.5" y2="447.6" stroke="#1e1e1e" stroke-width="1.38"/>
<line x1="467.5" y1="450.6" x2="497.5" y2="450.6" stroke="#1e1e1e" stroke-width="1.38"/>
<line x1="492.5" y1="440.5" x2="492.5" y2="469" stroke="#1e1e1e" stroke-width="1.38"/>
<circle cx="492.5" cy="447.8" r="1.4" fill="#1e1e1e"/>
<circle cx="492.5" cy="450.4" r="1.4" fill="#1e1e1e"/>
<line x1="594" y1="447.6" x2="624" y2="447.6" stroke="#1e1e1e" stroke-width="1.38"/>
<line x1="594" y1="450.6" x2="624" y2="450.6" stroke="#1e1e1e" stroke-width="1.38"/>
<line x1="619" y1="440.5" x2="619" y2="469" stroke="#1e1e1e" stroke-width="1.38"/>
<circle cx="619" cy="447.8" r="1.4" fill="#1e1e1e"/>
<circle cx="619" cy="450.4" r="1.4" fill="#1e1e1e"/>
<line x1="716" y1="447.6" x2="746" y2="447.6" stroke="#1e1e1e" stroke-width="1.38"/>
<line x1="716" y1="450.6" x2="746" y2="450.6" stroke="#1e1e1e" stroke-width="1.38"/>
<line x1="738" y1="440.5" x2="738" y2="469" stroke="#1e1e1e" stroke-width="1.38"/>
<circle cx="738" cy="447.8" r="1.4" fill="#1e1e1e"/>
<circle cx="738" cy="450.4" r="1.4" fill="#1e1e1e"/>
<text transform="translate(490,467.5) rotate(-90)" x="0" y="0" font-family="Liberation Sans" font-style="italic" font-size="11.72" textLength="11.5" lengthAdjust="spacingAndGlyphs" fill="#1e1e1e" stroke="#1e1e1e" stroke-width="0.5">15</text>
<text transform="translate(615,466) rotate(-90)" x="0" y="0" font-family="Liberation Sans" font-style="italic" font-size="9.38" textLength="8.5" lengthAdjust="spacingAndGlyphs" fill="#1e1e1e" stroke="#1e1e1e" stroke-width="0.5">15</text>
<text transform="translate(732.5,467.5) rotate(-90)" x="0" y="0" font-family="Liberation Sans" font-style="italic" font-size="7.81" textLength="8.5" lengthAdjust="spacingAndGlyphs" fill="#1e1e1e" stroke="#1e1e1e" stroke-width="0.5">15</text>
<text x="389" y="196" font-family="Liberation Sans" font-style="italic" font-weight="normal" font-size="11.54" textLength="36.0" lengthAdjust="spacingAndGlyphs" fill="#1e1e1e" stroke="#1e1e1e" stroke-width="0.55">K11; K13</text>
<line x1="389" y1="197" x2="426" y2="197" stroke="#1e1e1e" stroke-width="1.56"/>
<line x1="426" y1="197" x2="446" y2="191" stroke="#1e1e1e" stroke-width="1.44"/>
<polygon points="446,191 440.80,194.56 439.70,190.89" fill="#1e1e1e"/>
<text x="483.5" y="206.5" font-family="Liberation Sans" font-style="italic" font-weight="normal" font-size="10.13" textLength="36.0" lengthAdjust="spacingAndGlyphs" fill="#1e1e1e" stroke="#1e1e1e" stroke-width="0.55">K12; K14</text>
<line x1="463" y1="209" x2="519.5" y2="209" stroke="#1e1e1e" stroke-width="1.56"/>
<line x1="463" y1="209" x2="460" y2="211" stroke="#1e1e1e" stroke-width="1.44"/>
<polygon points="460,211 463.93,206.07 466.06,209.27" fill="#1e1e1e"/>
<text x="511.6" y="234.6" font-family="Liberation Sans" font-style="italic" font-weight="normal" font-size="11.54" textLength="38.4" lengthAdjust="spacingAndGlyphs" fill="#1e1e1e" stroke="#1e1e1e" stroke-width="0.55">K12; K14</text>
<line x1="510.5" y1="235" x2="552" y2="235" stroke="#1e1e1e" stroke-width="1.56"/>
<line x1="552" y1="235" x2="570" y2="216" stroke="#1e1e1e" stroke-width="1.44"/>
<polygon points="570,216 567.27,221.68 564.48,219.04" fill="#1e1e1e"/>
<text x="398" y="292" font-family="Liberation Sans" font-style="italic" font-weight="normal" font-size="8.97" textLength="18.0" lengthAdjust="spacingAndGlyphs" fill="#1e1e1e" stroke="#1e1e1e" stroke-width="0.55">C23</text>
<line x1="394.6" y1="294" x2="428" y2="294" stroke="#1e1e1e" stroke-width="1.56"/>
<line x1="428" y1="294" x2="444" y2="303" stroke="#1e1e1e" stroke-width="1.44"/>
<polygon points="444,303 437.83,301.73 439.71,298.39" fill="#1e1e1e"/>
<text x="401.5" y="334.5" font-family="Liberation Serif" font-style="italic" font-weight="bold" font-size="15.91" textLength="10.5" lengthAdjust="spacingAndGlyphs" fill="#1e1e1e" stroke="#1e1e1e" stroke-width="0.55">II</text>
<line x1="392.5" y1="336" x2="435" y2="336" stroke="#1e1e1e" stroke-width="1.25"/>
<text x="392.5" y="346" font-family="Liberation Sans" font-style="italic" font-weight="normal" font-size="8.00" textLength="33.5" lengthAdjust="spacingAndGlyphs" fill="#1e1e1e" stroke="#1e1e1e" stroke-width="0.55">Черт 7</text>
<line x1="422" y1="336" x2="437.5" y2="329" stroke="#1e1e1e" stroke-width="1.25"/>
<text x="490" y="375" font-family="Liberation Sans" font-style="italic" font-weight="normal" font-size="7.69" textLength="12.5" lengthAdjust="spacingAndGlyphs" fill="#1e1e1e" stroke="#1e1e1e" stroke-width="0.55">П6</text>
<line x1="480" y1="377" x2="507.5" y2="377" stroke="#1e1e1e" stroke-width="1.56"/>
<line x1="480" y1="377" x2="467.5" y2="391" stroke="#1e1e1e" stroke-width="1.44"/>
<polygon points="467.5,391 470.06,385.25 472.93,387.80" fill="#1e1e1e"/>
<text x="485" y="397.5" font-family="Liberation Sans" font-style="italic" font-weight="normal" font-size="9.62" textLength="34.0" lengthAdjust="spacingAndGlyphs" fill="#1e1e1e" stroke="#1e1e1e" stroke-width="0.55">Поз. 77</text>
<line x1="476" y1="399.5" x2="519" y2="399.5" stroke="#1e1e1e" stroke-width="1.56"/>
<line x1="476" y1="399.5" x2="464" y2="400" stroke="#1e1e1e" stroke-width="1.44"/>
<polygon points="464,400 469.91,397.83 470.07,401.67" fill="#1e1e1e"/>
<line x1="480" y1="400" x2="447.5" y2="412.5" stroke="#1e1e1e" stroke-width="1.25"/>
<text x="522.5" y="314" font-family="Liberation Sans" font-style="italic" font-weight="normal" font-size="11.54" textLength="17.5" lengthAdjust="spacingAndGlyphs" fill="#1e1e1e" stroke="#1e1e1e" stroke-width="0.55">C23</text>
<line x1="521" y1="315.5" x2="547.5" y2="315.5" stroke="#1e1e1e" stroke-width="1.56"/>
<line x1="545" y1="315.5" x2="574" y2="302.5" stroke="#1e1e1e" stroke-width="1.44"/>
<polygon points="574,302.5 569.31,306.71 567.74,303.20" fill="#1e1e1e"/>
<text x="526" y="418" font-family="Liberation Serif" font-style="italic" font-weight="bold" font-size="14.39" textLength="12.5" lengthAdjust="spacingAndGlyphs" fill="#1e1e1e" stroke="#1e1e1e" stroke-width="0.55">III</text>
<line x1="520" y1="419.5" x2="545" y2="419.5" stroke="#1e1e1e" stroke-width="1.25"/>
<text x="519" y="431" font-family="Liberation Sans" font-style="italic" font-weight="normal" font-size="9.33" textLength="33.5" lengthAdjust="spacingAndGlyphs" fill="#1e1e1e" stroke="#1e1e1e" stroke-width="0.55">Черт. 7</text>
<line x1="545" y1="419.5" x2="565" y2="405" stroke="#1e1e1e" stroke-width="1.25"/>
<text x="606" y="216" font-family="Liberation Sans" font-style="italic" font-weight="normal" font-size="10.26" textLength="36.0" lengthAdjust="spacingAndGlyphs" fill="#1e1e1e" stroke="#1e1e1e" stroke-width="0.55">K11; K13</text>
<line x1="602" y1="218" x2="642" y2="218" stroke="#1e1e1e" stroke-width="1.56"/>
<line x1="602" y1="218" x2="586" y2="192" stroke="#1e1e1e" stroke-width="1.44"/>
<polygon points="586,192 590.78,196.10 587.51,198.12" fill="#1e1e1e"/>
<text x="609" y="263" font-family="Liberation Sans" font-style="italic" font-weight="normal" font-size="10.26" textLength="12.0" lengthAdjust="spacingAndGlyphs" fill="#1e1e1e" stroke="#1e1e1e" stroke-width="0.55">П6</text>
<line x1="603" y1="264.4" x2="622" y2="264.4" stroke="#1e1e1e" stroke-width="1.56"/>
<line x1="603" y1="264.4" x2="594" y2="245" stroke="#1e1e1e" stroke-width="1.44"/>
<polygon points="594,245 598.27,249.63 594.78,251.25" fill="#1e1e1e"/>
<text x="609" y="399" font-family="Liberation Sans" font-style="italic" font-weight="normal" font-size="11.54" textLength="35.0" lengthAdjust="spacingAndGlyphs" fill="#1e1e1e" stroke="#1e1e1e" stroke-width="0.55">Поз. 77</text>
<line x1="600" y1="400" x2="645" y2="400" stroke="#1e1e1e" stroke-width="1.56"/>
<line x1="600" y1="400" x2="587.5" y2="400" stroke="#1e1e1e" stroke-width="1.44"/>
<polygon points="587.5,400 593.50,398.08 593.50,401.92" fill="#1e1e1e"/>
<line x1="600" y1="400" x2="575" y2="412.5" stroke="#1e1e1e" stroke-width="1.25"/>
<text x="643" y="190" font-family="Liberation Sans" font-style="italic" font-weight="normal" font-size="8.97" textLength="36.0" lengthAdjust="spacingAndGlyphs" fill="#1e1e1e" stroke="#1e1e1e" stroke-width="0.55">K11; K13</text>
<line x1="643" y1="192.4" x2="692" y2="192.4" stroke="#1e1e1e" stroke-width="1.56"/>
<line x1="692" y1="192.4" x2="696" y2="189" stroke="#1e1e1e" stroke-width="1.44"/>
<polygon points="696,189 692.67,194.35 690.18,191.42" fill="#1e1e1e"/>
<text x="730" y="205" font-family="Liberation Sans" font-style="italic" font-weight="normal" font-size="10.26" textLength="38.0" lengthAdjust="spacingAndGlyphs" fill="#1e1e1e" stroke="#1e1e1e" stroke-width="0.55">K12; K14</text>
<line x1="716" y1="205.6" x2="768" y2="205.6" stroke="#1e1e1e" stroke-width="1.56"/>
<line x1="716" y1="205.6" x2="709" y2="209" stroke="#1e1e1e" stroke-width="1.44"/>
<polygon points="709,209 713.56,204.65 715.24,208.11" fill="#1e1e1e"/>
<text x="735" y="262" font-family="Liberation Sans" font-style="italic" font-weight="normal" font-size="10.26" textLength="16.0" lengthAdjust="spacingAndGlyphs" fill="#1e1e1e" stroke="#1e1e1e" stroke-width="0.55">П6</text>
<line x1="724" y1="263" x2="752" y2="263" stroke="#1e1e1e" stroke-width="1.56"/>
<line x1="724" y1="263" x2="719" y2="244" stroke="#1e1e1e" stroke-width="1.44"/>
<polygon points="719,244 722.38,249.31 718.67,250.29" fill="#1e1e1e"/>
<text x="647.5" y="311" font-family="Liberation Sans" font-style="italic" font-weight="normal" font-size="10.90" textLength="20.0" lengthAdjust="spacingAndGlyphs" fill="#1e1e1e" stroke="#1e1e1e" stroke-width="0.55">C23</text>
<line x1="645" y1="312.5" x2="672.5" y2="312.5" stroke="#1e1e1e" stroke-width="1.56"/>
<line x1="672.5" y1="312.5" x2="696" y2="301" stroke="#1e1e1e" stroke-width="1.44"/>
<polygon points="696,301 691.45,305.36 689.77,301.91" fill="#1e1e1e"/>
<text x="734" y="399" font-family="Liberation Sans" font-style="italic" font-weight="normal" font-size="11.54" textLength="35.0" lengthAdjust="spacingAndGlyphs" fill="#1e1e1e" stroke="#1e1e1e" stroke-width="0.55">Поз. 77</text>
<line x1="715" y1="400" x2="770" y2="400" stroke="#1e1e1e" stroke-width="1.56"/>
<line x1="715" y1="400" x2="697.5" y2="410" stroke="#1e1e1e" stroke-width="1.25"/>
</svg></body></html>
